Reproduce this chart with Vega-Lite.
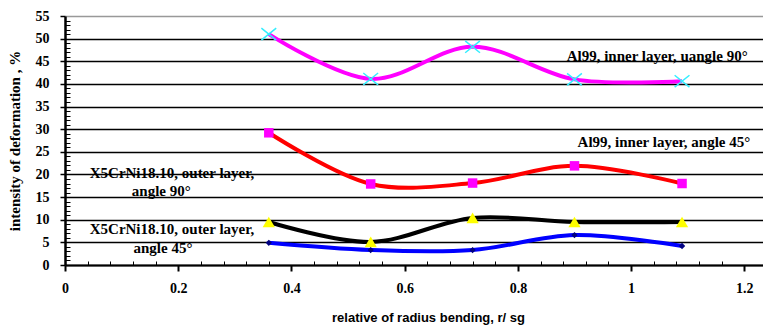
{
  "$schema": "https://vega.github.io/schema/vega-lite/v6.json",
  "width": 698,
  "height": 249,
  "autosize": "none",
  "padding": {"left": 65, "top": 16, "right": 0, "bottom": 62},
  "background": "white",
  "config": {"view": {"stroke": null}},
  "datasets": {
    "pts": [
      {"s": "Al99 inner 90", "x": 0.36, "y": 51.0},
      {"s": "Al99 inner 90", "x": 0.54, "y": 41.1},
      {"s": "Al99 inner 90", "x": 0.72, "y": 48.2},
      {"s": "Al99 inner 90", "x": 0.90, "y": 41.0},
      {"s": "Al99 inner 90", "x": 1.09, "y": 40.6},
      {"s": "Al99 inner 45", "x": 0.36, "y": 29.2},
      {"s": "Al99 inner 45", "x": 0.54, "y": 17.9},
      {"s": "Al99 inner 45", "x": 0.72, "y": 18.1},
      {"s": "Al99 inner 45", "x": 0.90, "y": 21.9},
      {"s": "Al99 inner 45", "x": 1.09, "y": 18.0},
      {"s": "X5CrNi 90", "x": 0.36, "y": 9.5},
      {"s": "X5CrNi 90", "x": 0.54, "y": 5.1},
      {"s": "X5CrNi 90", "x": 0.72, "y": 10.4},
      {"s": "X5CrNi 90", "x": 0.90, "y": 9.5},
      {"s": "X5CrNi 90", "x": 1.09, "y": 9.5},
      {"s": "X5CrNi 45", "x": 0.36, "y": 4.9},
      {"s": "X5CrNi 45", "x": 0.54, "y": 3.3},
      {"s": "X5CrNi 45", "x": 0.72, "y": 3.3},
      {"s": "X5CrNi 45", "x": 0.90, "y": 6.6},
      {"s": "X5CrNi 45", "x": 1.09, "y": 4.2}
    ],
    "labels": [
      {"t": "Al99, inner layer, uangle 90°", "x": 1.046, "y": 45.0},
      {"t": "Al99, inner layer, angle 45°", "x": 1.058, "y": 26.1},
      {"t": "X5CrNi18.10, outer layer,", "x": 0.189, "y": 19.2},
      {"t": "angle 90°", "x": 0.170, "y": 15.2},
      {"t": "X5CrNi18.10, outer layer,", "x": 0.189, "y": 6.8},
      {"t": "angle 45°", "x": 0.173, "y": 2.7}
    ]
  },
  "layer": [
    {
      "data": {"name": "pts"},
      "mark": {"type": "line", "interpolate": "catmull-rom"},
      "encoding": {
        "x": {
          "field": "x", "type": "quantitative",
          "scale": {"domain": [0, 1.233], "nice": false, "zero": false},
          "axis": {
            "values": [0,0.04,0.08,0.12,0.16,0.2,0.24,0.28,0.32,0.36,0.4,0.44,0.48,0.52,0.56,0.6,0.64,0.68,0.72,0.76,0.8,0.84,0.88,0.92,0.96,1,1.04,1.08,1.12,1.16,1.2],
            "tickCount": 100,
            "labelExpr": "abs(datum.value * 5 - round(datum.value * 5)) > 0.001 ? '' : datum.value == 0 ? '0' : datum.value == 1 ? '1' : format(datum.value, '.1f')",
            "labelOverlap": false, "labelBound": false, "labelFlush": false,
            "grid": false, "domainColor": "black", "domainWidth": 2,
            "tickColor": "black",
            "tickWidth": {"condition": {"test": "abs(datum.value * 5 - round(datum.value * 5)) > 0.001", "value": 1}, "value": 2},
            "tickSize": {"condition": {"test": "abs(datum.value * 5 - round(datum.value * 5)) > 0.001", "value": -4}, "value": 6},
            "labelFont": "Liberation Serif", "labelFontWeight": "bold", "labelFontSize": 14,
            "labelColor": "black", "labelPadding": 10,
            "title": "relative of radius bending, r/ sg",
            "titleFont": "Liberation Sans", "titleFontWeight": "bold", "titleFontSize": 13,
            "titleColor": "black", "titlePadding": 16, "titleX": 363
          }
        },
        "y": {
          "field": "y", "type": "quantitative",
          "scale": {"domain": [0, 55], "nice": false},
          "axis": {
            "values": [0,1,2,3,4,5,6,7,8,9,10,11,12,13,14,15,16,17,18,19,20,21,22,23,24,25,26,27,28,29,30,31,32,33,34,35,36,37,38,39,40,41,42,43,44,45,46,47,48,49,50,51,52,53,54,55],
            "tickCount": 100,
            "labelExpr": "datum.value % 5 == 0 ? format(datum.value, 'd') : ''",
            "labelOverlap": false, "labelBound": false, "labelFlush": false,
            "grid": true,
            "gridColor": {"condition": {"test": "datum.value == 55", "value": "#999999"}, "value": "black"},
            "gridWidth": 1.5,
            "gridOpacity": {"condition": {"test": "datum.value % 5 != 0", "value": 0}, "value": 1},
            "domainColor": "black", "domainWidth": 2.5,
            "tickColor": "black",
            "tickWidth": {"condition": {"test": "datum.value % 5 != 0", "value": 1}, "value": 1.5},
            "tickSize": {"condition": {"test": "datum.value % 5 != 0", "value": -5}, "value": 5},
            "labelFont": "Liberation Serif", "labelFontWeight": "bold", "labelFontSize": 14,
            "labelColor": "black", "labelPadding": 11,
            "title": "intensity of deformation , %",
            "titleFont": "Liberation Serif", "titleFontWeight": "bold", "titleFontSize": 15,
            "titleColor": "black", "titlePadding": 13
          }
        },
        "color": {
          "field": "s", "type": "nominal", "legend": null,
          "scale": {"domain": ["Al99 inner 90", "Al99 inner 45", "X5CrNi 90", "X5CrNi 45"],
                    "range": ["#FF00FF", "#FF0000", "#000000", "#0000FF"]}
        },
        "strokeWidth": {
          "field": "s", "type": "nominal", "legend": null,
          "scale": {"domain": ["Al99 inner 90", "Al99 inner 45", "X5CrNi 90", "X5CrNi 45"],
                    "range": [4, 4, 3.5, 3]}
        }
      }
    },
    {
      "data": {"name": "pts"},
      "transform": [{"filter": "datum.s == 'Al99 inner 90'"}],
      "mark": {"type": "point", "shape": "M-1,-0.8L1,0.8M-1,0.8L1,-0.8", "filled": false, "stroke": "#33EEFF", "strokeWidth": 1.5, "size": 220, "opacity": 1},
      "encoding": {
        "x": {"field": "x", "type": "quantitative"},
        "y": {"field": "y", "type": "quantitative"}
      }
    },
    {
      "data": {"name": "pts"},
      "transform": [{"filter": "datum.s == 'Al99 inner 45'"}],
      "mark": {"type": "point", "shape": "square", "filled": true, "color": "#FF00FF", "size": 90, "opacity": 1},
      "encoding": {
        "x": {"field": "x", "type": "quantitative"},
        "y": {"field": "y", "type": "quantitative"}
      }
    },
    {
      "data": {"name": "pts"},
      "transform": [{"filter": "datum.s == 'X5CrNi 90'"}],
      "mark": {"type": "point", "shape": "triangle-up", "filled": true, "color": "#FFFF00", "size": 150, "opacity": 1},
      "encoding": {
        "x": {"field": "x", "type": "quantitative"},
        "y": {"field": "y", "type": "quantitative"}
      }
    },
    {
      "data": {"name": "pts"},
      "transform": [{"filter": "datum.s == 'X5CrNi 45'"}],
      "mark": {"type": "point", "shape": "diamond", "filled": true, "color": "#000080", "size": 40, "opacity": 1},
      "encoding": {
        "x": {"field": "x", "type": "quantitative"},
        "y": {"field": "y", "type": "quantitative"}
      }
    },
    {
      "data": {"name": "labels"},
      "mark": {"type": "text", "font": "Liberation Serif", "fontWeight": "bold", "fontSize": 15, "color": "black", "align": "center", "baseline": "alphabetic"},
      "encoding": {
        "x": {"field": "x", "type": "quantitative"},
        "y": {"field": "y", "type": "quantitative"},
        "text": {"field": "t"}
      }
    }
  ]
}
